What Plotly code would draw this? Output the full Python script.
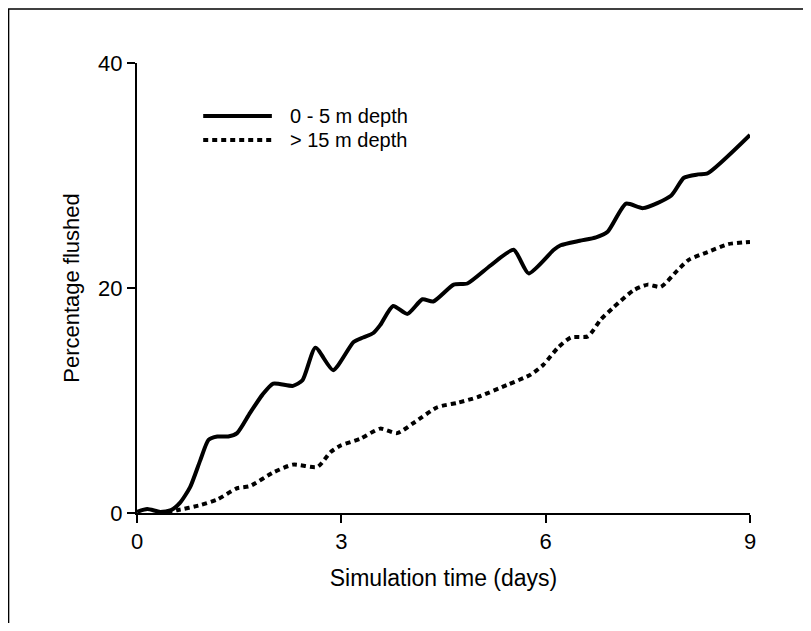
import plotly.graph_objects as go

# 0 - 5 m depth (solid)
days_shallow = [0.0, 0.15, 0.34, 0.5, 0.63, 0.78, 0.93, 1.05, 1.18, 1.34, 1.47, 1.66, 1.84, 2.0,
                2.29, 2.43, 2.62, 2.88, 3.18, 3.32, 3.47, 3.57, 3.76, 3.97, 4.19, 4.35, 4.65,
                4.85, 5.19, 5.53, 5.75, 6.12, 6.22, 6.5, 6.74, 6.91, 7.18, 7.43, 7.84, 8.03,
                8.24, 8.38, 9.0]
pct_shallow = [0.1, 0.35, 0.1, 0.25, 0.9, 2.3, 4.7, 6.5, 6.8, 6.8, 7.1, 8.9, 10.5, 11.5,
               11.3, 11.8, 14.7, 12.7, 15.2, 15.6, 16.0, 16.7, 18.4, 17.7, 19.0, 18.8, 20.3,
               20.4, 22.0, 23.4, 21.3, 23.4, 23.8, 24.2, 24.5, 25.0, 27.5, 27.1, 28.2, 29.8,
               30.1, 30.2, 33.6]

# > 15 m depth (dotted)
days_deep = [0.44, 0.59, 0.93, 1.18, 1.47, 1.66, 2.0, 2.29, 2.65, 2.84, 2.99, 3.28, 3.57,
             3.82, 4.06, 4.41, 4.71, 5.0, 5.44, 5.78, 5.97, 6.18, 6.37, 6.62, 6.81, 7.0,
             7.29, 7.5, 7.69, 7.94, 8.1, 8.38, 8.68, 9.0]
pct_deep = [0.1, 0.25, 0.7, 1.2, 2.2, 2.4, 3.6, 4.3, 4.1, 5.4, 6.0, 6.6, 7.5,
            7.1, 8.0, 9.4, 9.8, 10.3, 11.4, 12.3, 13.2, 14.7, 15.6, 15.7, 17.2, 18.3,
            19.8, 20.3, 20.1, 21.6, 22.5, 23.2, 23.9, 24.1]

series_names = ["0 - 5 m depth", "> 15 m depth"]
x_ticks = [0, 3, 6, 9]
y_ticks = [0, 20, 40]

FONT = "Liberation Sans, Arial, sans-serif"
SOLID = dict(color="black", width=4)
DOTTED = dict(color="black", width=4, dash="5px,4px")

fig = go.Figure()
fig.add_trace(go.Scatter(x=days_shallow, y=pct_shallow, mode="lines", name=series_names[0],
                         line=dict(shape="spline", smoothing=0.6, **SOLID)))
fig.add_trace(go.Scatter(x=days_deep, y=pct_deep, mode="lines", name=series_names[1],
                         line=dict(shape="spline", smoothing=0.6, **DOTTED)))

axis_common = dict(showgrid=False, zeroline=False, showline=True, linecolor="black",
                   linewidth=2, ticks="outside", ticklen=8, tickwidth=1.5, tickcolor="black",
                   tickfont=dict(size=22, color="black", family=FONT))

fig.update_xaxes(range=[0, 9], tickvals=x_ticks,
                 title=dict(text="Simulation time (days)", standoff=16,
                            font=dict(size=23, color="black", family=FONT)),
                 **axis_common)
fig.update_yaxes(range=[0, 40], tickvals=y_ticks,
                 title=dict(text="Percentage flushed", standoff=12,
                            font=dict(size=22, color="black", family=FONT)),
                 **axis_common)

# page frame: only top and left edges show in the reference
fig.add_shape(type="line", xref="paper", yref="paper", x0=-0.2104, x1=1.09, y0=1.12, y1=1.12,
              line=dict(color="black", width=1.5))
fig.add_shape(type="line", xref="paper", yref="paper", x0=-0.2095, x1=-0.2095, y0=1.12, y1=-0.25,
              line=dict(color="black", width=1.5))

# hand-drawn legend with long line samples
for name, style, ly in zip(series_names, [SOLID, DOTTED], [0.882, 0.829]):
    fig.add_shape(type="line", xref="paper", yref="paper", x0=0.108, x1=0.220, y0=ly, y1=ly,
                  line=style)
    fig.add_annotation(xref="paper", yref="paper", x=0.246, y=ly, text=name, showarrow=False,
                       xanchor="left", yanchor="middle",
                       font=dict(size=20, family=FONT, color="black"))

fig.update_layout(
    width=795, height=615,
    margin=dict(l=129, r=53, t=55, b=110),
    paper_bgcolor="white", plot_bgcolor="white",
    font=dict(family=FONT, color="black"),
    showlegend=False,
)

fig.write_html("out.html")
